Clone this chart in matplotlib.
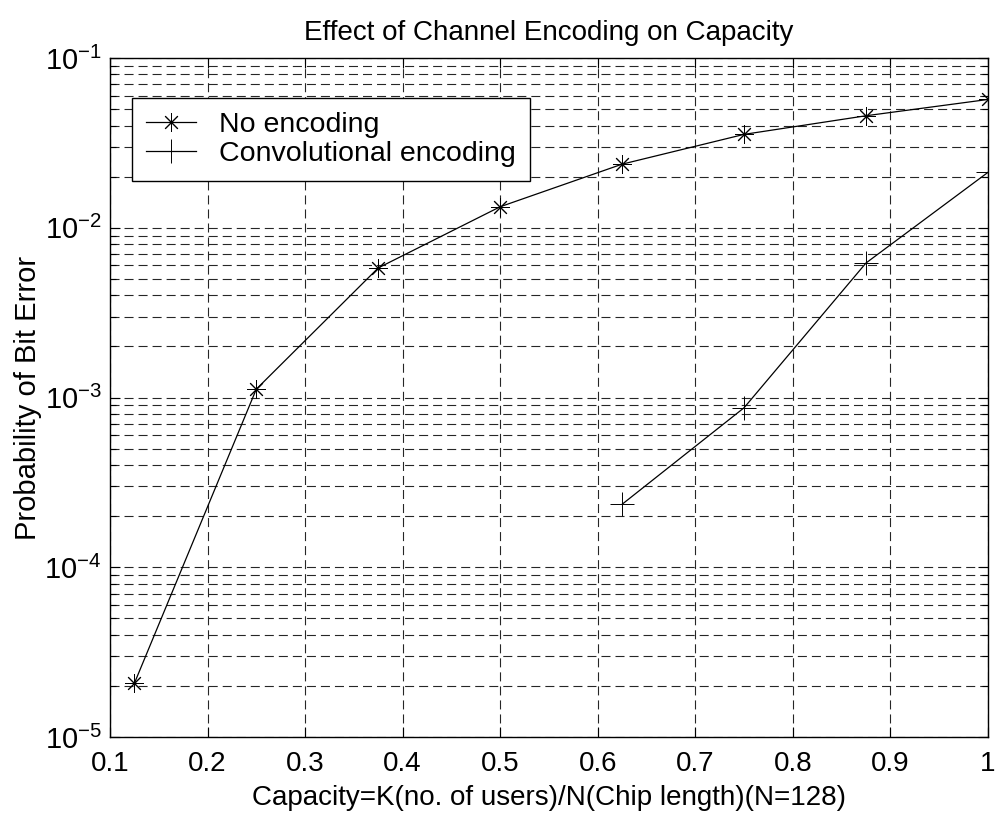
import numpy as np
from matplotlib import pyplot as plt
from matplotlib.ticker import FixedLocator, LogLocator, NullFormatter, FuncFormatter

plt.rcParams['font.family'] = ['Liberation Sans', 'DejaVu Sans']
plt.rcParams['mathtext.fontset'] = 'custom'
plt.rcParams['mathtext.rm'] = 'Liberation Sans'
plt.rcParams['mathtext.it'] = 'Liberation Sans'
plt.rcParams['lines.scale_dashes'] = False

# K/N points and simulated BER
capacity = [0.125, 0.25, 0.375, 0.5, 0.625, 0.75, 0.875, 1.0]
ber_uncoded = [2.07e-5, 1.12e-3, 5.8e-3, 1.33e-2, 2.37e-2, 3.55e-2, 4.57e-2, 5.7e-2]
capacity_conv = [0.625, 0.75, 0.875, 1.0]
ber_conv = [2.35e-4, 8.7e-4, 6.2e-3, 2.12e-2]

xticks = [0.1, 0.2, 0.3, 0.4, 0.5, 0.6, 0.7, 0.8, 0.9, 1.0]
xticklabels = ['0.1', '0.2', '0.3', '0.4', '0.5', '0.6', '0.7', '0.8', '0.9', '1']

fig = plt.figure(figsize=(9.97, 8.15), dpi=100)
ax = fig.add_axes([0.1103, 0.0957, 0.8806, 0.8331])

star = (8, 2, 0)
ax.semilogy(capacity, ber_uncoded, color='k', lw=0.9, marker=star, ms=13,
            mew=0.7, label='No encoding')
ax.semilogy(capacity_conv, ber_conv, color='k', lw=0.9, marker='+', ms=17,
            mew=0.7, label='Convolutional encoding')

ax.set_xlim(0.1, 1.0)
ax.set_ylim(1e-5, 1e-1)
ax.xaxis.set_major_locator(FixedLocator(xticks))
ax.set_xticklabels(xticklabels)
ax.yaxis.set_major_locator(LogLocator(base=10, numticks=10))
ax.yaxis.set_minor_locator(LogLocator(base=10, subs=np.arange(2, 10), numticks=20))
ax.yaxis.set_minor_formatter(NullFormatter())
ax.yaxis.set_major_formatter(FuncFormatter(lambda v, p: r'$10^{%d}$' % round(np.log10(v))))

ax.tick_params(which='both', direction='in', top=True, right=True, width=0.8)
ax.tick_params(which='major', length=7)
ax.tick_params(axis='x', which='major', pad=10, labelsize=20)
ax.tick_params(axis='y', which='major', pad=6, labelsize=21)
ax.tick_params(which='minor', length=4)

grid_kw = dict(color='0.15', lw=0.8, linestyle=(0, (6.5, 3.6)))
ax.grid(True, which='major', axis='both', **grid_kw)
ax.grid(True, which='minor', axis='y', **grid_kw)
ax.set_axisbelow(True)
for s in ax.spines.values():
    s.set_linewidth(1.0)

ax.set_title('Effect of Channel Encoding on Capacity', fontsize=20, pad=13)
ax.set_xlabel('Capacity=K(no. of users)/N(Chip length)(N=128)', fontsize=20, labelpad=6)
ax.set_ylabel('Probability of Bit Error', fontsize=21, labelpad=2)

leg = ax.legend(loc='upper left', bbox_to_anchor=(0.025, 0.941), fontsize=20.5,
                handlelength=1.75, handletextpad=0.8, labelspacing=0.1,
                borderpad=0.5, borderaxespad=0, fancybox=False, framealpha=1,
                edgecolor='k')
leg.get_frame().set_linewidth(1.0)

fig.savefig('out.png', dpi=100)
